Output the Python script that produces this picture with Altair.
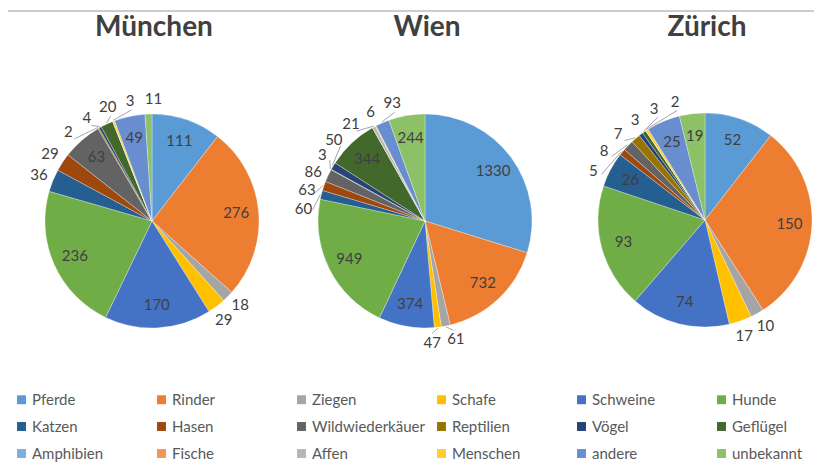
import math
import altair as alt
import pandas as pd

# ---------------- data ----------------
categories = ["Pferde", "Rinder", "Ziegen", "Schafe", "Schweine", "Hunde",
              "Katzen", "Hasen", "Wildwiederkäuer", "Reptilien", "Vögel", "Geflügel",
              "Amphibien", "Fische", "Affen", "Menschen", "andere", "unbekannt"]
colors = ["#5B9BD5", "#ED7D31", "#A5A5A5", "#FFC000", "#4472C4", "#70AD47",
          "#255E91", "#9E480E", "#636363", "#997300", "#264478", "#43682B",
          "#7CAFDD", "#F1975A", "#B7B7B7", "#FFCD33", "#698ED0", "#8CC168"]
cities = ["München", "Wien", "Zürich"]
muenchen = [111, 276, 18, 29, 170, 236, 36, 29, 63, 2, 4, 20, 0, 0, 0, 3, 49, 11]
wien = [1330, 732, 61, 47, 374, 949, 60, 63, 86, 3, 50, 344, 0, 0, 21, 6, 93, 244]
zuerich = [52, 150, 10, 17, 74, 93, 26, 5, 8, 7, 3, 3, 0, 0, 0, 2, 25, 19]
series = {"München": muenchen, "Wien": wien, "Zürich": zuerich}

# ---------------- layout (style) ----------------
W, H = 806, 455
R = 107
centers = {"München": (144, 213), "Wien": (417, 213), "Zürich": (697, 212)}
TXT = "#404040"
FONT = "Lato"

rows = []
for city in cities:
    for i, (c, v) in enumerate(zip(categories, series[city])):
        rows.append({"city": city, "cat": c, "idx": i, "value": v})
df = pd.DataFrame(rows)


def label_layout(city):
    values = series[city]
    cx, cy = centers[city]
    total = sum(values)
    cum = 0
    inside, outside = [], []
    for v in values:
        if v > 0:
            mid = (cum + v / 2) / total * 360
            (inside if v / total >= 0.036 else outside).append((v, mid))
        cum += v
    labs, leads = [], []

    def pt(r, ang):
        a = math.radians(ang)
        return cx + r * math.sin(a), cy - r * math.cos(a)

    for v, mid in inside:
        x, y = pt(0.79 * R, mid)
        labs.append({"t": str(v), "x": x, "y": y})
    rl = R + 15

    def step_at(ang):
        sep = 16 + 8 * abs(math.cos(math.radians(ang)))
        return math.degrees(sep / rl)

    clusters = [[o] for o in outside]

    def positions(cl):
        c = sum(m for _, m in cl) / len(cl)
        st = step_at(c)
        return [c + (k - (len(cl) - 1) / 2) * st for k in range(len(cl))]

    changed = True
    while changed:
        changed = False
        for k in range(len(clusters) - 1):
            a = positions(clusters[k])[-1]
            b = positions(clusters[k + 1])[0]
            if b - a < step_at((a + b) / 2) - 1e-9:
                clusters[k] = clusters[k] + clusters[k + 1]
                del clusters[k + 1]
                changed = True
                break
    for cl in clusters:
        for (v, mid), ang in zip(cl, positions(cl)):
            x, y = pt(rl, ang)
            labs.append({"t": str(v), "x": x, "y": y})
            if abs(ang - mid) > 3:
                x1, y1 = pt(R + 1, mid)
                x2, y2 = pt(rl - 9, ang)
                leads.append({"x": x1, "y": y1, "x2": x2, "y2": y2})
    return labs, leads


lab_rows, lead_rows = [], []
for city in cities:
    l, d = label_layout(city)
    lab_rows += l
    lead_rows += d
lab_df = pd.DataFrame(lab_rows)
lead_df = pd.DataFrame(lead_rows)
title_df = pd.DataFrame({"t": cities, "x": [centers[c][0] + 2 for c in cities]})

color_scale = alt.Scale(domain=categories, range=colors)

layers = []
# frame
layers.append(alt.Chart(pd.DataFrame({"a": [0]})).mark_rule(color="#9A9A9A", strokeWidth=1).encode(
    x=alt.value(-1), x2=alt.value(W), y=alt.value(3)))
layers.append(alt.Chart(pd.DataFrame({"a": [0]})).mark_rule(color="#9A9A9A", strokeWidth=1).encode(
    x=alt.value(-1), y=alt.value(3), y2=alt.value(H)))

pies = []
for n, city in enumerate(cities):
    cx, cy = centers[city]
    pie = alt.Chart(df).transform_filter(alt.datum.city == city).mark_arc(
        outerRadius=R, stroke="#ffffff", strokeWidth=0.3).encode(
        theta=alt.Theta("value:Q", stack=True),
        color=alt.Color("cat:N", scale=color_scale,
                        legend=alt.Legend(
                            title=None, orient="none", legendX=6, legendY=384,
                            direction="horizontal",
                            columns=6, symbolType="square", symbolSize=80,
                            symbolStrokeWidth=0, labelFontSize=15, labelFont=FONT,
                            labelColor="#595959", columnPadding=9, rowPadding=11,
                            gridAlign="all", labelOffset=3) if n == 0 else None),
        order=alt.Order("idx:Q"),
        x=alt.value(cx), y=alt.value(cy),
    )
    pies.append(pie)

leaders = alt.Chart(lead_df).mark_rule(color="#A6A6A6", strokeWidth=1).encode(
    x=alt.X("x:Q", scale=None), y=alt.Y("y:Q", scale=None),
    x2="x2:Q", y2="y2:Q")
labels = alt.Chart(lab_df).mark_text(font=FONT, fontSize=15, color=TXT,
                                     align="center", baseline="middle").encode(
    x=alt.X("x:Q", scale=None), y=alt.Y("y:Q", scale=None), text="t:N")
titles = alt.Chart(title_df).mark_text(font=FONT, fontSize=28, fontWeight="bold",
                                       color="#404040", align="center",
                                       baseline="alphabetic").encode(
    x=alt.X("x:Q", scale=None), y=alt.value(28), text="t:N")

chart = alt.layer(*layers, *pies, leaders, labels, titles).resolve_scale(
    theta="independent").properties(
    width=W, height=H, padding=0, autosize=alt.AutoSizeParams(type="none")
).configure_view(stroke=None)

chart.save("out.html", embed_options={"renderer": "svg", "actions": False})
